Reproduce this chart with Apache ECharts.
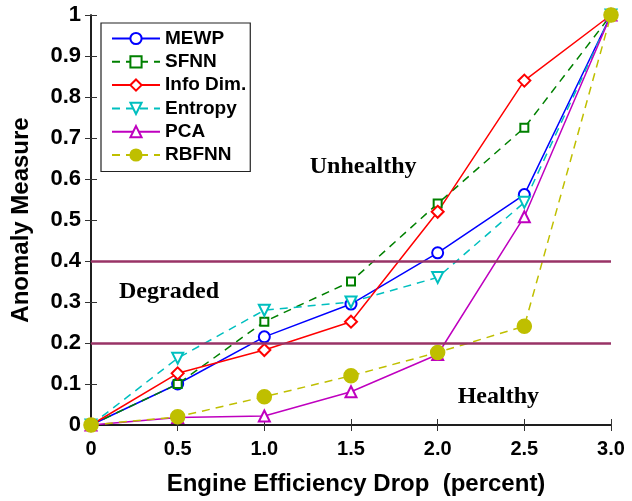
<!DOCTYPE html>
<html>
<head>
<meta charset="utf-8">
<script src="https://cdn.jsdelivr.net/npm/echarts@6/dist/echarts.min.js"></script>
<style>
  html, body { margin: 0; padding: 0; background: #fff; }
  #chart { width: 632px; height: 501px; }
</style>
</head>
<body>
<div id="chart"></div>
<script>
// Engine efficiency drop (percent)
const drops = [0, 0.5, 1.0, 1.5, 2.0, 2.5, 3.0];
const xTickLabels = ['0', '0.5', '1.0', '1.5', '2.0', '2.5', '3.0'];

// Anomaly measure per method
const mewp    = [0, 0.100, 0.215, 0.295, 0.420, 0.562, 1];
const sfnn    = [0, 0.100, 0.252, 0.350, 0.540, 0.725, 1];
const infoDim = [0, 0.126, 0.183, 0.252, 0.520, 0.840, 1];
const entropy = [0, 0.163, 0.280, 0.300, 0.360, 0.543, 1];
const pca     = [0, 0.018, 0.022, 0.081, 0.172, 0.508, 1];
const rbfnn   = [0, 0.020, 0.069, 0.120, 0.177, 0.241, 1];

// Boundaries between health regions
const thresholds = [0.2, 0.4];
const regionNames = ['Healthy', 'Degraded', 'Unhealthy'];

const pairs = ys => drops.map((x, i) => [x, ys[i]]);

function lineSeries(name, ys, color, symbol, size, dashed, extra) {
  return Object.assign({
    name: name,
    type: 'line',
    data: pairs(ys),
    symbol: symbol,
    symbolSize: size,
    showAllSymbol: true,
    color: color,
    lineStyle: { color: color, width: 1.5, type: dashed ? [8, 6] : 'solid' },
    itemStyle: { color: color, borderColor: color, borderWidth: 1.5 },
    z: 3
  }, extra || {});
}

const chart = echarts.init(document.getElementById('chart'), null, { renderer: 'canvas' });

const sans = 'Arial, "Liberation Sans", sans-serif';
const axisLine = { show: true, lineStyle: { color: '#111', width: 1.5 } };
const tickIn = { show: true, inside: true, length: 6, lineStyle: { color: '#333', width: 1 } };
const regionFont = { fontFamily: '"Liberation Serif", "Times New Roman", serif', fontWeight: 'bold', fontSize: 24, fill: '#000' };

chart.setOption({
  animation: false,
  backgroundColor: '#fff',
  grid: { left: 91, right: 21, top: 15, bottom: 76 },
  xAxis: [
    {
      type: 'value', min: 0, max: 3, interval: 0.5,
      axisLine: axisLine, axisTick: tickIn, splitLine: { show: false },
      axisLabel: { margin: 14, fontFamily: sans, fontWeight: 'bold', fontSize: 20, color: '#000',
                   formatter: v => xTickLabels[Math.round(v * 2)] }
    },
    {
      type: 'value', position: 'top', min: 0, max: 3, interval: 0.5,
      axisLine: axisLine, axisTick: tickIn, splitLine: { show: false },
      axisLabel: { show: false }
    }
  ],
  yAxis: [
    {
      type: 'value', min: 0, max: 1, interval: 0.1,
      axisLine: axisLine, axisTick: tickIn, splitLine: { show: false },
      axisLabel: { margin: 10, fontFamily: sans, fontWeight: 'bold', fontSize: 22, color: '#000',
                   formatter: v => (v === 0 || v === 1) ? String(v) : v.toFixed(1) },
      name: 'Anomaly Measure', nameLocation: 'middle', nameGap: 58, nameRotate: 90,
      nameTextStyle: { fontFamily: sans, fontWeight: 'bold', fontSize: 24, color: '#000' }
    },
    {
      type: 'value', position: 'right', min: 0, max: 1, interval: 0.1,
      axisLine: axisLine, axisTick: tickIn, splitLine: { show: false },
      axisLabel: { show: false }
    }
  ],
  legend: {
    orient: 'vertical',
    left: 101, top: 23,
    padding: [6, 4, 7, 10],
    backgroundColor: '#fff',
    borderColor: '#222', borderWidth: 1.2,
    itemWidth: 48, itemHeight: 14, itemGap: 4.3,
    textStyle: { fontFamily: sans, fontWeight: 'bold', fontSize: 19, color: '#000' },
    data: ['MEWP', 'SFNN', 'Info Dim.', 'Entropy', 'PCA', 'RBFNN']
  },
  series: [
    {
      name: 'thresholds', type: 'line', data: [], silent: true,
      markLine: {
        silent: true, symbol: 'none', label: { show: false },
        lineStyle: { color: '#993366', width: 2.5, type: 'solid' },
        data: thresholds.map(t => ({ yAxis: t }))
      },
      z: 2
    },
    lineSeries('MEWP', mewp, '#0000FF', 'emptyCircle', 11, false),
    lineSeries('SFNN', sfnn, '#008000', 'emptyRect', 8, true),
    lineSeries('Info Dim.', infoDim, '#FF0000', 'emptyDiamond', 12, false),
    lineSeries('Entropy', entropy, '#00BFBF', 'emptyTriangle', 11, true, { symbolRotate: 180 }),
    lineSeries('PCA', pca, '#BF00BF', 'emptyTriangle', 11, false),
    lineSeries('RBFNN', rbfnn, '#BFBF00', 'circle', 14, true)
  ]
});

// Axis title below the x axis, and region labels placed in data coordinates
const regionSpots = [[2.35, 0.07], [0.45, 0.325], [1.57, 0.63]];
chart.setOption({
  graphic: [
    {
      type: 'text',
      x: 356, y: 484,
      style: { text: 'Engine Efficiency Drop  (percent)', align: 'center', verticalAlign: 'middle',
               fontFamily: sans, fontWeight: 'bold', fontSize: 24, fill: '#000' }
    }
  ].concat(regionNames.map((name, i) => {
    const p = chart.convertToPixel({ xAxisIndex: 0, yAxisIndex: 0 }, regionSpots[i]);
    return {
      type: 'text', x: p[0], y: p[1],
      style: Object.assign({ text: name, align: 'center', verticalAlign: 'middle' }, regionFont)
    };
  }))
});
</script>
</body>
</html>
